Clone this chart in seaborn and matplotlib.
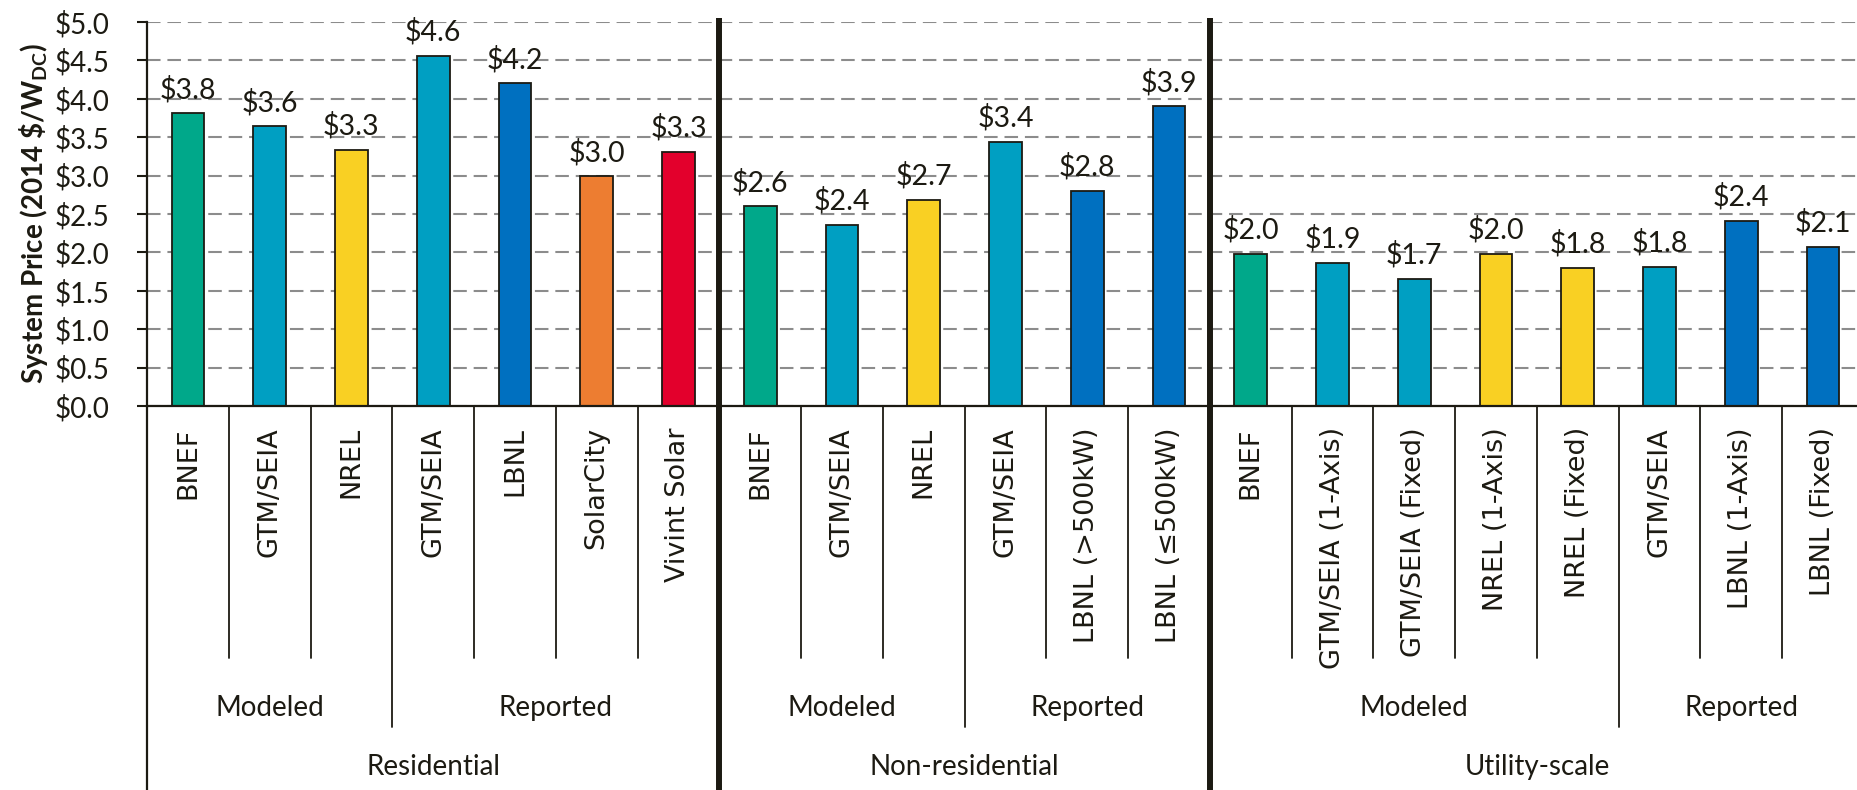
import matplotlib
matplotlib.use("Agg")
import matplotlib.pyplot as plt
import matplotlib.transforms as mtransforms
import seaborn as sns
import pandas as pd

# Chart data
labels = ["BNEF", "GTM/SEIA", "NREL", "GTM/SEIA", "LBNL", "SolarCity", "Vivint Solar",
          "BNEF", "GTM/SEIA", "NREL", "GTM/SEIA", "LBNL (>500kW)", "LBNL (≤500kW)",
          "BNEF", "GTM/SEIA (1-Axis)", "GTM/SEIA (Fixed)", "NREL (1-Axis)", "NREL (Fixed)",
          "GTM/SEIA", "LBNL (1-Axis)", "LBNL (Fixed)"]
prices = [3.81, 3.64, 3.33, 4.56, 4.20, 2.99, 3.31,
          2.60, 2.36, 2.68, 3.44, 2.80, 3.90,
          1.98, 1.86, 1.66, 1.98, 1.80, 1.81, 2.41, 2.07]
sources = ["BNEF", "GTM", "NREL", "GTM", "LBNL", "SolarCity", "Vivint",
           "BNEF", "GTM", "NREL", "GTM", "LBNL", "LBNL",
           "BNEF", "GTM", "GTM", "NREL", "NREL", "GTM", "LBNL", "LBNL"]
subgroups = ["Modeled"] * 3 + ["Reported"] * 4 + ["Modeled"] * 3 + ["Reported"] * 3 \
    + ["Modeled"] * 5 + ["Reported"] * 3
segments = ["Residential"] * 7 + ["Non-residential"] * 6 + ["Utility-scale"] * 8
y_ticks = [0.0, 0.5, 1.0, 1.5, 2.0, 2.5, 3.0, 3.5, 4.0, 4.5, 5.0]

source_colors = {"BNEF": "#00A88A", "GTM": "#009FC2", "NREL": "#F9D023",
                 "LBNL": "#0070C0", "SolarCity": "#ED7D31", "Vivint": "#E3002C"}
INK = "#1c1a12"

df = pd.DataFrame({"pos": [f"c{i:02d}" for i in range(len(labels))],
                   "price": prices, "source": sources,
                   "subgroup": subgroups, "segment": segments})
palette = {p: source_colors[s] for p, s in zip(df["pos"], df["source"])}

sns.set_theme(style="white")
plt.rcParams["font.family"] = ["Lato", "DejaVu Sans"]
plt.rcParams["mathtext.fontset"] = "custom"
plt.rcParams["mathtext.rm"] = "Lato"
plt.rcParams["mathtext.bf"] = "Lato:bold"

fig = plt.figure(figsize=(18.57, 7.90), dpi=100)
ax = fig.add_axes([147 / 1857, 1 - 406 / 790, 1717 / 1857, 384 / 790])

sns.barplot(data=df, x="pos", y="price", hue="pos", palette=palette, legend=False,
            width=0.4, edgecolor=INK, linewidth=1.3, saturation=1, ax=ax)

ax.set_ylim(0, 5.0)
ax.set_xlim(-0.5, len(labels) - 0.5)
ax.set_yticks(y_ticks)
ax.set_yticklabels([f"${t:.1f}" for t in y_ticks], fontsize=20, color=INK)
ax.tick_params(axis="y", length=7, width=1.5, color=INK, pad=20, left=True)
ax.tick_params(axis="x", bottom=False, labelbottom=False)
ax.set_xlabel("")
ax.set_ylabel("System Price (2014 \\$/W$_{\\mathbf{DC}}$)", fontsize=20,
              fontweight="bold", color=INK, labelpad=3)
ax.yaxis.grid(True, color="#8c8c8c", linewidth=1.5, linestyle=(0, (6.5, 3.3)))
ax.set_axisbelow(True)
for s in ["top", "right"]:
    ax.spines[s].set_visible(False)
ax.spines["bottom"].set_color(INK)
ax.spines["bottom"].set_linewidth(1.6)
ax.spines["left"].set_color(INK)
ax.spines["left"].set_linewidth(1.6)

# value labels
for i, v in enumerate(prices):
    ax.annotate(f"${v:.1f}", (i, v), xytext=(0, 11), textcoords="offset points",
                ha="center", va="baseline", fontsize=20.5, color=INK)

# category axis with nested group labels
trans = mtransforms.blended_transform_factory(ax.transData, ax.transAxes)
for i, lab in enumerate(labels):
    ax.text(i, -0.055, lab, rotation=90, ha="center", va="top", fontsize=19.5,
            family="DejaVu Sans", color=INK, transform=trans)

n = len(labels)
for b in range(1, n):
    left, right = b - 1, b
    if segments[left] != segments[right]:
        ax.plot([b - 0.5, b - 0.5], [1.01, -1.0], color=INK, lw=4.3,
                transform=trans, clip_on=False, solid_capstyle="butt")
    elif subgroups[left] != subgroups[right]:
        ax.plot([b - 0.5, b - 0.5], [0, -0.836], color=INK, lw=1.3,
                transform=trans, clip_on=False)
    else:
        ax.plot([b - 0.5, b - 0.5], [0, -0.655], color=INK, lw=1.3,
                transform=trans, clip_on=False)
ax.plot([-0.5, -0.5], [0, -1.0], color=INK, lw=1.6, transform=trans, clip_on=False)

# subgroup and segment labels
start = 0
for i in range(1, n + 1):
    if i == n or subgroups[i] != subgroups[start] or segments[i] != segments[start]:
        ax.text((start + i - 1) / 2, -0.786, subgroups[start], ha="center", va="center",
                fontsize=20, color=INK, transform=trans)
        start = i
start = 0
for i in range(1, n + 1):
    if i == n or segments[i] != segments[start]:
        ax.text((start + i - 1) / 2, -0.94, segments[start], ha="center", va="center",
                fontsize=20, color=INK, transform=trans)
        start = i

fig.savefig("out.png", dpi=100)
